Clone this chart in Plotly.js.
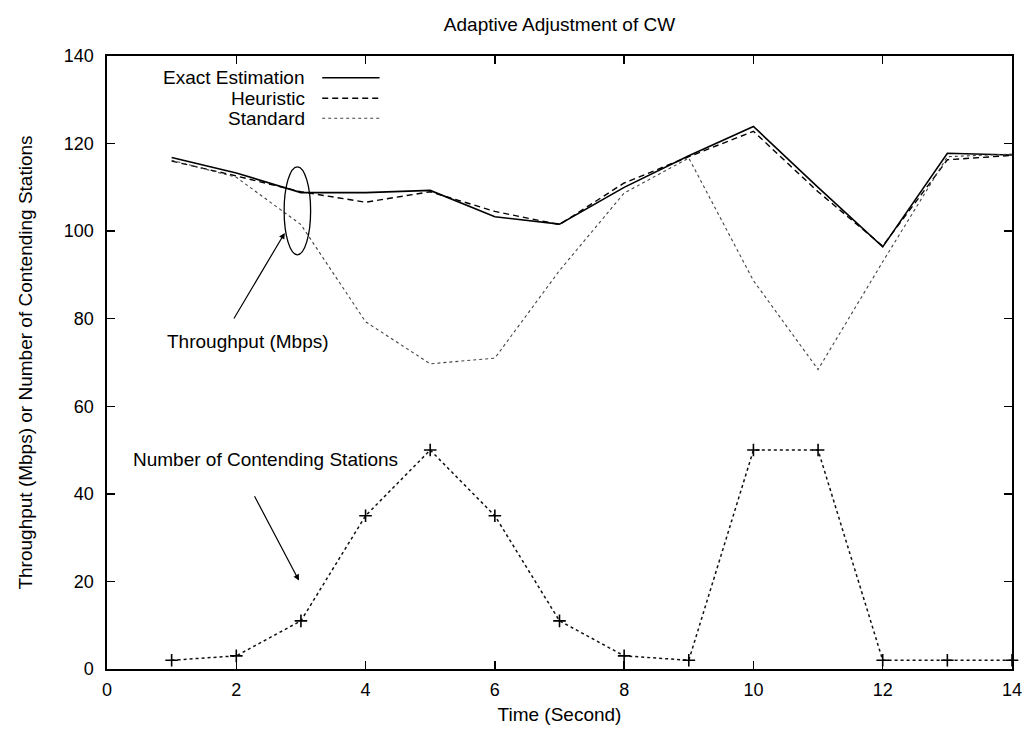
<!DOCTYPE html>
<html>
<head>
<meta charset="utf-8">
<script src="https://cdn.plot.ly/plotly-3.0.1.min.js"></script>
<style>html,body{margin:0;padding:0;background:#fff;}#chart{width:1025px;height:730px;}</style>
</head>
<body>
<div id="chart"></div>
<script>
// Data
var timeSec = [1, 2, 3, 4, 5, 6, 7, 8, 9, 10, 11, 12, 13, 14];
var exactEstimation = [116.8, 113.3, 108.8, 108.8, 109.3, 103.3, 101.6, 110.0, 117.2, 123.9, 110.0, 96.4, 117.8, 117.4];
var heuristic = [116.0, 112.6, 109.0, 106.6, 109.0, 104.5, 101.5, 111.0, 117.0, 122.8, 109.0, 96.6, 116.3, 117.3];
var standard = [116.2, 112.3, 101.5, 79.3, 69.7, 71.0, 91.0, 108.7, 116.7, 88.7, 68.4, 93.0, 117.0, 117.6];
var contendingStations = [2, 3, 11, 35, 50, 35, 11, 3, 2, 50, 50, 2, 2, 2];
var xTicks = [0, 2, 4, 6, 8, 10, 12, 14];
var yTicks = [0, 20, 40, 60, 80, 100, 120, 140];

var FONT = 'Liberation Sans, Arial, Helvetica, sans-serif';
var TXT = 19;

var traces = [
  {x: timeSec, y: exactEstimation, name: 'Exact Estimation', mode: 'lines',
   line: {color: '#000', width: 1.6, dash: 'solid'}, showlegend: false},
  {x: timeSec, y: heuristic, name: 'Heuristic', mode: 'lines',
   line: {color: '#000', width: 1.4, dash: '6px,4px'}, showlegend: false},
  {x: timeSec, y: standard, name: 'Standard', mode: 'lines',
   line: {color: '#444', width: 1.1, dash: 'dot'}, showlegend: false},
  {x: timeSec, y: contendingStations, name: 'Number of Contending Stations', mode: 'lines+markers',
   line: {color: '#111', width: 1.5, dash: 'dot'},
   marker: {symbol: 'cross-thin', size: 9, color: '#000', line: {color: '#000', width: 1.6}},
   cliponaxis: false, showlegend: false}
];

// custom legend (text left of the line sample, gnuplot style)
var legendNames = ['Exact Estimation', 'Heuristic', 'Standard'];
var legendDash = ['solid', '6px,4px', 'dot'];
var legendY = [0.9646, 0.931, 0.8984];

var annotations = [];
var shapes = [];
for (var i = 0; i < legendNames.length; i++) {
  annotations.push({xref: 'paper', yref: 'paper', x: 0.2205, y: legendY[i], xanchor: 'right', yanchor: 'middle',
    text: legendNames[i], showarrow: false, font: {family: FONT, size: TXT, color: '#000'}});
  shapes.push({type: 'line', xref: 'paper', yref: 'paper', x0: 0.2378, x1: 0.3012, y0: legendY[i], y1: legendY[i],
    line: {color: i === 2 ? '#444' : '#000', width: i === 2 ? 1.1 : 1.4, dash: legendDash[i]}});
}

// ellipse around the throughput curves at t=3
shapes.push({type: 'circle', xref: 'x', yref: 'y', x0: 2.74, x1: 3.15, y0: 94.6, y1: 114.7,
  line: {color: '#000', width: 1.3}});

annotations.push({xref: 'x', yref: 'y', x: 2.75, y: 99.6, ax: 1.95, ay: 79.7, axref: 'x', ayref: 'y',
  showarrow: true, arrowhead: 2, arrowsize: 1, arrowwidth: 1.2, arrowcolor: '#000', text: ''});
annotations.push({xref: 'x', yref: 'y', x: 2.18, y: 74.9, xanchor: 'center', yanchor: 'middle',
  text: 'Throughput (Mbps)', showarrow: false, font: {family: FONT, size: TXT, color: '#000'}});

annotations.push({xref: 'x', yref: 'y', x: 2.97, y: 20.2, ax: 2.27, ay: 39.8, axref: 'x', ayref: 'y',
  showarrow: true, arrowhead: 2, arrowsize: 1, arrowwidth: 1.2, arrowcolor: '#000', text: ''});
annotations.push({xref: 'x', yref: 'y', x: 2.45, y: 47.8, xanchor: 'center', yanchor: 'middle',
  text: 'Number of Contending Stations', showarrow: false, font: {family: FONT, size: TXT, color: '#000'}});

var layout = {
  width: 1025, height: 730,
  margin: {l: 107, r: 13, t: 56, b: 61},
  paper_bgcolor: '#fff', plot_bgcolor: '#fff',
  font: {family: FONT, size: TXT, color: '#000'},
  title: {text: 'Adaptive Adjustment of CW', font: {family: FONT, size: TXT, color: '#000'},
          x: 0.5, xref: 'paper', xanchor: 'center', y: 0.966, yanchor: 'middle'},
  xaxis: {
    range: [0, 14], tickvals: xTicks, ticktext: xTicks.map(String),
    showgrid: false, zeroline: false, showline: true, linecolor: '#000', linewidth: 1.6,
    mirror: 'ticks', ticks: 'inside', ticklen: 8, tickwidth: 1.3, tickcolor: '#000',
    ticklabelstandoff: 4,
    tickfont: {family: FONT, size: 18, color: '#000'},
    title: {text: 'Time (Second)', font: {family: FONT, size: TXT, color: '#000'}, standoff: 8}
  },
  yaxis: {
    range: [0, 140], tickvals: yTicks, ticktext: yTicks.map(String),
    showgrid: false, zeroline: false, showline: true, linecolor: '#000', linewidth: 1.6,
    mirror: 'ticks', ticks: 'inside', ticklen: 8, tickwidth: 1.3, tickcolor: '#000',
    ticklabelstandoff: 8,
    tickfont: {family: FONT, size: 18, color: '#000'},
    title: {text: 'Throughput (Mbps) or Number of Contending Stations', font: {family: FONT, size: TXT, color: '#000'}, standoff: 26}
  },
  shapes: shapes,
  annotations: annotations,
  showlegend: false
};

Plotly.newPlot('chart', traces, layout, {displayModeBar: false, staticPlot: true});
</script>
</body>
</html>
